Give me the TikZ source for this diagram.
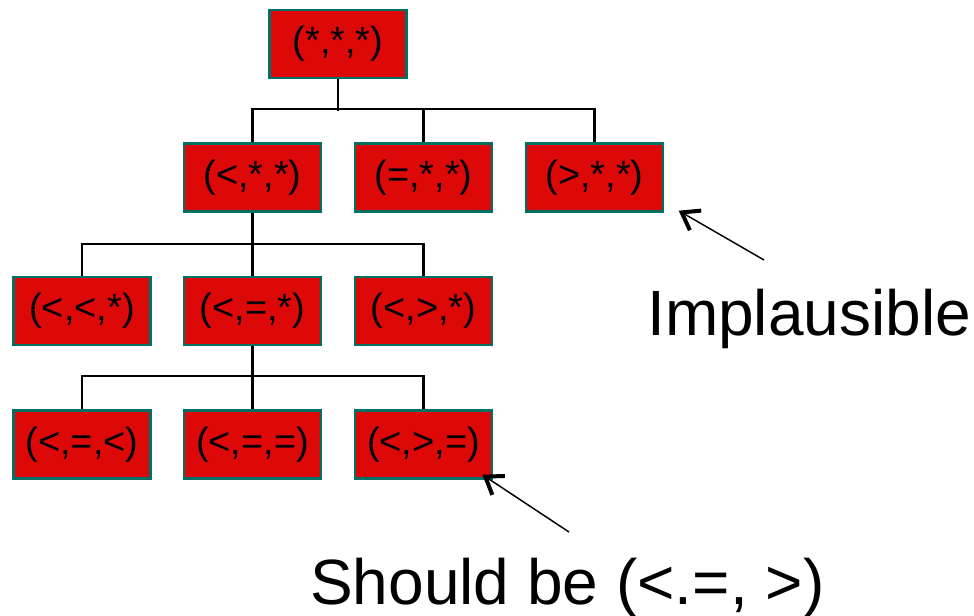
\documentclass[tikz,border=0pt]{standalone}
\usepackage{fontspec}
\setmainfont{Liberation Sans}
\usetikzlibrary{arrows.meta}
\definecolor{boxred}{RGB}{221,8,8}
\definecolor{boxteal}{RGB}{0,112,100}
\tikzset{
  nodebox/.style={draw=boxteal, line width=1.8pt, fill=boxred, minimum width=102.5pt, minimum height=51pt, inner sep=0pt, font=\fontsize{28.5}{30}\selectfont},
  link/.style={line width=1.6pt},
  pointer/.style={line width=1.1pt, -{Straight Barb[length=12pt,width=17pt,line width=3pt]}},
  remark/.style={font=\fontsize{48}{56}\selectfont, inner sep=0pt, anchor=base west}
}
\begin{document}
\begin{tikzpicture}[x=0.75pt,y=0.75pt,yscale=-1,xscale=1]
\useasboundingbox (0,0) rectangle (974,616);

%Boxes: root and first level
\node[nodebox] (sss) at (338,44) {(*,*,*)};
\node[nodebox] (lss) at (252.5,177.5) {(<,*,*)};
\node[nodebox] (ess) at (423.5,177.5) {(=,*,*)};
\node[nodebox] (gss) at (594.5,177.5) {(>,*,*)};
%Boxes: second level
\node[nodebox] (lls) at (82,311) {(<,<,*)};
\node[nodebox] (les) at (252.5,311) {(<,=,*)};
\node[nodebox] (lgs) at (423.5,311) {(<,>,*)};
%Boxes: third level
\node[nodebox] (lel) at (82,444.5) {(<,=,<)};
\node[nodebox] (lee) at (252.5,444.5) {(<,=,=)};
\node[nodebox] (lge) at (423.5,444.5) {(<,>,=)};

%Straight Lines: tree
\draw[link] (sss.south) -- ++(0,32);
\draw[link] (lss.north) -- ++(0,-33) -| (gss.north);
\draw[link] (ess.north) -- ++(0,-33);
\draw[link] (lss.south) -- (les.north);
\draw[link] (lls.north) -- ++(0,-32) -| (lgs.north);
\draw[link] (les.south) -- (lee.north);
\draw[link] (lel.north) -- ++(0,-33) -| (lge.north);

% Text Node
\node[remark] (impl) at (647,336) {Implausible};
\node[remark] (fix) at (310,604) {Should be (<.=, >)};

%Arrows
\coordinate (imptail) at (764,260);
\coordinate (fixtail) at (569,532);
\draw[pointer] (imptail) -- ([xshift=11pt,yshift=-1.5pt]gss.south east);
\draw[pointer] (fixtail) -- ([xshift=-8pt,yshift=-3.75pt]lge.south east);

\end{tikzpicture}
\end{document}
